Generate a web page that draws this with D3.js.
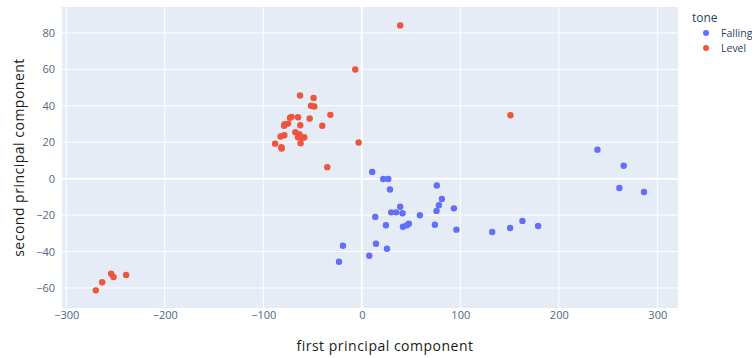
<!DOCTYPE html>
<html>
<head>
<meta charset="utf-8">
<script src="https://cdn.jsdelivr.net/npm/d3@7"></script>
<style>
  body { margin: 0; background: #fff; }
  svg { display: block; }
</style>
</head>
<body>
<svg id="chart" width="752" height="358"></svg>
<script>
// PCA projection of tone samples
const levelX = [-6.6, -62.7, -48.9, -51.5, -48.2, -31.9, -64.7, -52.9, -72.8, -71.2,
  -78.3, -74.8, -78.9, -62.4, -40.1, -82.4, -78.6, -67.4, -63.4, -64.7,
  -60, -58.3, -88, -62.1, -81.6, -81.3, -3.2, -35, 39, 150.9,
  -270, -263.5, -254.4, -252, -239.2];
const levelY = [59.9, 45.6, 44.3, 40, 39.6, 35, 33.7, 33, 33.4, 33.9,
  29.9, 30.2, 29, 29.3, 29, 23.1, 23.8, 25.5, 24.4, 22.7,
  22.5, 22.7, 19.2, 19.4, 17.2, 16.5, 19.8, 6.3, 84.1, 34.8,
  -61.3, -56.9, -52.2, -54, -52.9];

const fallingX = [239.2, 265.9, 10.6, 21.8, 26.9, 76.2, 28.6, 261.5, 286.5, 81.3,
  78.3, 39, 93.5, 75.9, 29.9, 35, 41.4, 59, 13.7, 163.1,
  74.2, 24.5, 179, 47.8, 45.8, 41.8, 150.6, 96.1, 132.4, -19.1,
  14.4, 25.6, 7.6, -23.1];
const fallingY = [15.9, 7.1, 3.7, -0.2, -0.2, -3.8, -6, -5.1, -7.3, -11.2,
  -14.6, -15.4, -16.3, -17.7, -18.5, -18.5, -19, -20.1, -21, -23.2,
  -25.3, -25.6, -26, -24.7, -25.6, -26.4, -27.1, -28, -29.3, -36.8,
  -35.7, -38.5, -42.3, -45.6];

const xTicks = [-300, -200, -100, 0, 100, 200, 300];
const yTicks = [-60, -40, -20, 0, 20, 40, 60, 80];

const series = [
  { name: "Falling", color: "#636efa", xs: fallingX, ys: fallingY },
  { name: "Level", color: "#ef553b", xs: levelX, ys: levelY }
];

const svg = d3.select("#chart");
const plot = { left: 62, top: 7, right: 678, bottom: 308 };

const x = d3.scaleLinear().domain([-304.3, 321]).range([plot.left, plot.right]);
const y = d3.scaleLinear().domain([-71, 94.2]).range([plot.bottom, plot.top]);

const tickFont = "'Open Sans', sans-serif";
const tickColor = "#506784";

svg.append("rect")
  .attr("x", plot.left).attr("y", plot.top)
  .attr("width", plot.right - plot.left)
  .attr("height", plot.bottom - plot.top)
  .attr("fill", "#e5ecf6");

// grid lines
const grid = svg.append("g").attr("stroke", "#fff");
grid.selectAll(".gx").data(xTicks).join("line")
  .attr("x1", d => x(d)).attr("x2", d => x(d))
  .attr("y1", plot.top).attr("y2", plot.bottom)
  .attr("stroke-width", d => d === 0 ? 2 : 1);
grid.selectAll(".gy").data(yTicks).join("line")
  .attr("y1", d => y(d)).attr("y2", d => y(d))
  .attr("x1", plot.left).attr("x2", plot.right)
  .attr("stroke-width", d => d === 0 ? 2 : 1);

// axes (labels only)
const fmt = d => d < 0 ? "\u2212" + Math.abs(d) : String(d);
const xAxis = svg.append("g")
  .attr("transform", `translate(0,${plot.bottom})`)
  .call(d3.axisBottom(x).tickValues(xTicks).tickFormat(fmt).tickSize(0).tickPadding(3));
const yAxis = svg.append("g")
  .attr("transform", `translate(${plot.left},0)`)
  .call(d3.axisLeft(y).tickValues(yTicks).tickFormat(fmt).tickSize(0).tickPadding(7));
[xAxis, yAxis].forEach(g => {
  g.select(".domain").remove();
  g.selectAll("text")
    .attr("fill", tickColor)
    .style("font-family", tickFont)
    .style("font-size", "11px");
});

// points
series.forEach(s => {
  svg.append("g").selectAll("circle")
    .data(d3.range(s.xs.length))
    .join("circle")
    .attr("cx", i => x(s.xs[i]))
    .attr("cy", i => y(s.ys[i]))
    .attr("r", 3.2)
    .attr("fill", s.color);
});

// axis titles
svg.append("text")
  .attr("x", 385)
  .attr("y", 351)
  .attr("text-anchor", "middle")
  .attr("fill", "#1a1a1a")
  .style("font-family", tickFont)
  .style("font-size", "14px")
  .style("letter-spacing", "0.5px")
  .text("first principal component");

svg.append("text")
  .attr("transform", `translate(24,${(plot.top + plot.bottom) / 2}) rotate(-90)`)
  .attr("text-anchor", "middle")
  .attr("fill", "#1a1a1a")
  .style("font-family", tickFont)
  .style("font-size", "14px")
  .style("letter-spacing", "0.5px")
  .text("second principal component");

// legend
const legend = svg.append("g").attr("transform", "translate(692,0)");
legend.append("text")
  .attr("x", 0).attr("y", 22)
  .attr("fill", "#2a3f5f")
  .style("font-family", tickFont)
  .style("font-size", "12px")
  .text("tone");
series.forEach((s, i) => {
  const cy = 33 + i * 15;
  legend.append("circle").attr("cx", 14).attr("cy", cy).attr("r", 3).attr("fill", s.color);
  legend.append("text")
    .attr("x", 29).attr("y", cy + 4)
    .attr("fill", "#2a3f5f")
    .style("font-family", tickFont)
    .style("font-size", "10.5px")
    .text(s.name);
});
</script>
</body>
</html>
